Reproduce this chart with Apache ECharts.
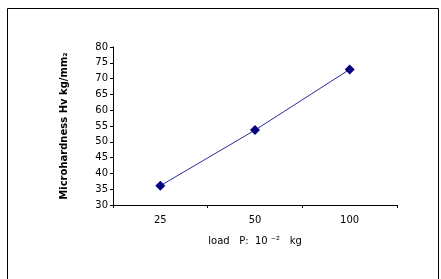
<!DOCTYPE html>
<html><head><meta charset="utf-8">
<script src="https://cdn.jsdelivr.net/npm/echarts@6/dist/echarts.min.js"></script>
<style>html,body{margin:0;padding:0;background:#fff}#c{width:441px;height:279px}</style>
</head><body><div id="c"></div>
<script>
const categories = ['25', '50', '100'];
const hardness = [36.1, 53.7, 72.9];
const yTicks = {min: 30, max: 80, interval: 5};

const chart = echarts.init(document.getElementById('c'), null, {renderer: 'canvas'});
chart.setOption({
  animation: false,
  backgroundColor: '#fff',
  graphic: [{type: 'rect', shape: {x: 7.5, y: 8.5, width: 431, height: 290}, style: {fill: 'none', stroke: '#000', lineWidth: 1}, silent: true}],
  grid: {left: 113, right: 44, top: 47, bottom: 74},
  xAxis: {
    type: 'category', data: categories, boundaryGap: true,
    axisLine: {lineStyle: {color: '#000', width: 1}},
    axisTick: {show: true, length: 3, inside: false, lineStyle: {color: '#000'}},
    axisLabel: {color: '#000', fontSize: 10, fontFamily: 'DejaVu Sans', margin: 10},
    name: 'load   P:  10 \u207B\u00B2   kg', nameLocation: 'middle', nameGap: 31,
    nameTextStyle: {color: '#000', fontSize: 10, fontFamily: 'DejaVu Sans'}
  },
  yAxis: {
    type: 'value', min: yTicks.min, max: yTicks.max, interval: yTicks.interval,
    splitLine: {show: false},
    axisLine: {show: true, lineStyle: {color: '#000', width: 1}},
    axisTick: {show: true, length: 3, lineStyle: {color: '#000'}},
    axisLabel: {color: '#000', fontSize: 10, fontFamily: 'DejaVu Sans', margin: 5},
    name: 'Microhardness Hv kg/mm\u2082', nameLocation: 'middle', nameGap: 44, nameRotate: 90,
    nameTextStyle: {color: '#000', fontSize: 10, fontWeight: 'bold', fontFamily: 'DejaVu Sans'}
  },
  series: [{
    type: 'line', data: hardness,
    symbol: 'diamond', symbolSize: 10,
    lineStyle: {color: '#2b2b9c', width: 1},
    itemStyle: {color: '#000080'}
  }]
});
</script></body></html>
